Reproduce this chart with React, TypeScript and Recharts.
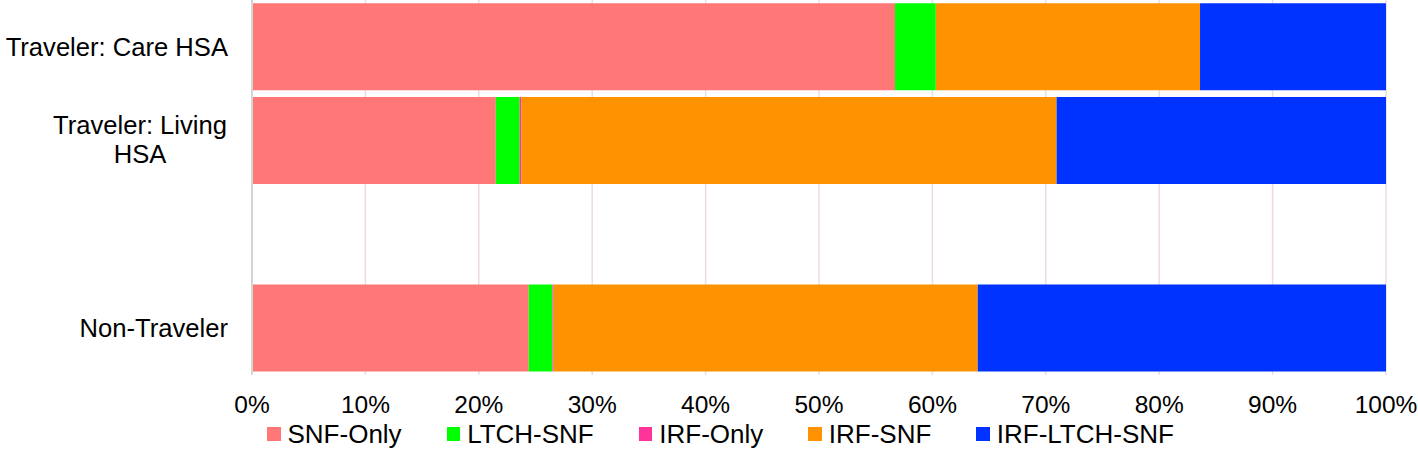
import React from "react";
import { BarChart, Bar, XAxis, YAxis, CartesianGrid, Legend } from "recharts";

const categories = ["Traveler: Care HSA", "Traveler: Living HSA", "", "Non-Traveler"];
const categoryLines: string[][] = [["Traveler: Care HSA"], ["Traveler: Living", "HSA"], [], ["Non-Traveler"]];

const snfOnly = [56.7, 21.5, null, 24.4];
const ltchSnf = [3.6, 2.1, null, 2.1];
const irfOnly = [0.0, 0.15, null, 0.1];
const irfSnf = [23.3, 47.2, null, 37.4];
const irfLtchSnf = [16.4, 29.05, null, 36.0];

const xTicks = [0, 10, 20, 30, 40, 50, 60, 70, 80, 90, 100];

const seriesNames = ["SNF-Only", "LTCH-SNF", "IRF-Only", "IRF-SNF", "IRF-LTCH-SNF"];
const seriesKeys = ["snfOnly", "ltchSnf", "irfOnly", "irfSnf", "irfLtchSnf"];
const seriesColors = ["#FF7777", "#00FF00", "#FF3399", "#FF9200", "#0033FF"];

const data = categories.map((name, i) => ({
  name,
  idx: i,
  snfOnly: snfOnly[i],
  ltchSnf: ltchSnf[i],
  irfOnly: irfOnly[i],
  irfSnf: irfSnf[i],
  irfLtchSnf: irfLtchSnf[i],
}));

const FONT = "'Liberation Sans', Arial, sans-serif";

const YTick = (props: any) => {
  const { x, y, payload } = props;
  const lines = categoryLines[payload.index] || [];
  if (lines.length === 0) return null;
  const right = x - 16;
  if (lines.length === 1) {
    return (
      <text x={right} y={y} dy="0.355em" textAnchor="end" fontSize={25.6} fill="#000" fontFamily={FONT}>
        {lines[0]}
      </text>
    );
  }
  const center = right - 88;
  return (
    <g>
      {lines.map((l, k) => (
        <text
          key={k}
          x={center}
          y={y - 16 + k * 29.5}
          dy="0.355em"
          textAnchor="middle"
          fontSize={25.6}
          fill="#000"
          fontFamily={FONT}
        >
          {l}
        </text>
      ))}
    </g>
  );
};

const renderLegend = () => (
  <div
    style={{
      display: "flex",
      alignItems: "center",
      height: 26,
      paddingLeft: 267,
      fontSize: 26,
      lineHeight: "26px",
      fontFamily: FONT,
      color: "#000",
      whiteSpace: "nowrap",
    }}
  >
    {seriesNames.map((n, i) => (
      <div key={n} style={{ display: "flex", alignItems: "center", marginRight: 45 }}>
        <div style={{ width: 13.5, height: 13.5, background: seriesColors[i], marginRight: 7 }} />
        <span>{n}</span>
      </div>
    ))}
  </div>
);

export default function App() {
  return (
    <div style={{ position: "absolute", left: 0, top: 0, fontFamily: FONT, background: "#fff" }}>
      <BarChart
        width={1418}
        height={449}
        data={data}
        layout="vertical"
        margin={{ top: 0, right: 32, left: 0, bottom: 2 }}
        barCategoryGap="3.5%"
      >
        <CartesianGrid horizontal={false} stroke="#ecdcdc" strokeWidth={1.5} />
        <XAxis
          type="number"
          domain={[0, 100]}
          ticks={xTicks}
          tickFormatter={(v: number) => `${v}%`}
          axisLine={false}
          tickLine={false}
          tickSize={0}
          tickMargin={21}
          height={46}
          interval={0}
          tick={{ fill: "#000", fontSize: 24.5, fontFamily: FONT }}
        />
        <YAxis
          type="category"
          dataKey="name"
          width={252}
          axisLine={{ stroke: "#d4d4d4", strokeWidth: 2 }}
          tickLine={false}
          interval={0}
          tick={<YTick />}
        />
        <Legend verticalAlign="bottom" height={26} content={renderLegend} wrapperStyle={{ left: 0, width: 1418 }} />
        {seriesKeys.map((k, i) => (
          <Bar key={k} dataKey={k} name={seriesNames[i]} stackId="a" fill={seriesColors[i]} isAnimationActive={false} />
        ))}
      </BarChart>
    </div>
  );
}
